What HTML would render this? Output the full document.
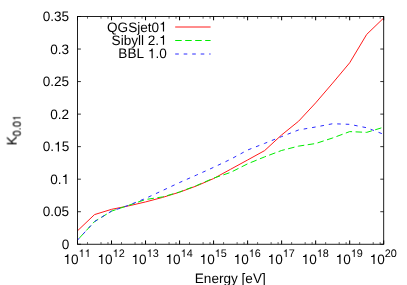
<!DOCTYPE html>
<html><head><meta charset="utf-8"><title>plot</title>
<style>html,body{margin:0;padding:0;background:#fff;}svg{display:block;font-family:"Liberation Sans",sans-serif;}</style></head>
<body>
<svg width="407" height="285" viewBox="0 0 407 285">
<rect width="407" height="285" fill="#fff"/>
<g fill="none" stroke-width="1" stroke-linejoin="round">
<path d="M77.50,230.80 L94.51,214.60 L111.52,209.33 L128.53,205.92 L145.54,201.93 L162.56,197.43 L179.57,192.17 L196.58,185.91 L213.59,178.55 L230.60,169.27 L247.61,159.97 L264.62,150.60 L281.63,134.93 L298.64,121.20 L315.66,102.87 L332.67,83.09 L349.68,62.80 L366.69,34.40 L383.70,18.00" stroke="#ff1a1a"/>
<path d="M77.50,240.10 L94.51,221.60 L111.52,211.14 L128.53,205.36 L145.54,199.52 L162.56,196.92 L179.57,191.97 L196.58,185.51 L213.59,178.19 L230.60,172.40 L247.61,163.82 L264.62,156.89 L281.63,150.46 L298.64,146.11 L315.66,143.52 L332.67,137.97 L349.68,131.60 L366.69,132.36 L383.70,127.20" stroke="#00ec00" stroke-dasharray="6.5 3.5" stroke-dashoffset="7"/>
<path d="M77.50,240.10 L94.51,221.60 L111.52,211.14 L128.53,205.29 L145.54,198.41 L162.56,190.52 L179.57,182.52 L196.58,175.02 L213.59,167.34 L230.60,159.26 L247.61,150.03 L264.62,143.39 L281.63,136.59 L298.64,129.94 L315.66,126.99 L332.67,123.74 L349.68,124.34 L366.69,127.75 L383.70,134.30" stroke="#2a2aff" stroke-dasharray="3.6 4.9" stroke-dashoffset="0.6"/>
<path d="M175.2,27.0 H210.6" stroke="#ff1a1a"/>
<path d="M175.2,40.5 H210.6" stroke="#00ec00" stroke-dasharray="6.5 3.5"/>
<path d="M175.2,54.0 H210.6" stroke="#2a2aff" stroke-dasharray="3.6 4.9"/>
</g>
<path d="M77.50,244.25 v-3.8 M77.50,16.5 v3.8 M111.52,244.25 v-3.8 M111.52,16.5 v3.8 M145.54,244.25 v-3.8 M145.54,16.5 v3.8 M179.57,244.25 v-3.8 M179.57,16.5 v3.8 M213.59,244.25 v-3.8 M213.59,16.5 v3.8 M247.61,244.25 v-3.8 M247.61,16.5 v3.8 M281.63,244.25 v-3.8 M281.63,16.5 v3.8 M315.66,244.25 v-3.8 M315.66,16.5 v3.8 M349.68,244.25 v-3.8 M349.68,16.5 v3.8 M383.70,244.25 v-3.8 M383.70,16.5 v3.8" stroke="#000" stroke-width="1" fill="none"/>
<path d="M77.5,244.25 h3.4 M383.7,244.25 h-3.4 M77.5,211.71 h3.4 M383.7,211.71 h-3.4 M77.5,179.18 h3.4 M383.7,179.18 h-3.4 M77.5,146.64 h3.4 M383.7,146.64 h-3.4 M77.5,114.11 h3.4 M383.7,114.11 h-3.4 M77.5,81.57 h3.4 M383.7,81.57 h-3.4 M77.5,49.04 h3.4 M383.7,49.04 h-3.4 M77.5,16.50 h3.4 M383.7,16.50 h-3.4" stroke="#000" stroke-opacity="0.8" stroke-width="1" fill="none"/>
<path d="M87.49,244.25 v-2.2 M87.49,16.5 v2.2 M101.03,244.25 v-2.2 M101.03,16.5 v2.2 M107.98,244.25 v-2.2 M107.98,16.5 v2.2 M121.51,244.25 v-2.2 M121.51,16.5 v2.2 M135.05,244.25 v-2.2 M135.05,16.5 v2.2 M142.00,244.25 v-2.2 M142.00,16.5 v2.2 M155.54,244.25 v-2.2 M155.54,16.5 v2.2 M169.07,244.25 v-2.2 M169.07,16.5 v2.2 M176.02,244.25 v-2.2 M176.02,16.5 v2.2 M189.56,244.25 v-2.2 M189.56,16.5 v2.2 M203.10,244.25 v-2.2 M203.10,16.5 v2.2 M210.04,244.25 v-2.2 M210.04,16.5 v2.2 M223.58,244.25 v-2.2 M223.58,16.5 v2.2 M237.12,244.25 v-2.2 M237.12,16.5 v2.2 M244.06,244.25 v-2.2 M244.06,16.5 v2.2 M257.60,244.25 v-2.2 M257.60,16.5 v2.2 M271.14,244.25 v-2.2 M271.14,16.5 v2.2 M278.09,244.25 v-2.2 M278.09,16.5 v2.2 M291.63,244.25 v-2.2 M291.63,16.5 v2.2 M305.16,244.25 v-2.2 M305.16,16.5 v2.2 M312.11,244.25 v-2.2 M312.11,16.5 v2.2 M325.65,244.25 v-2.2 M325.65,16.5 v2.2 M339.19,244.25 v-2.2 M339.19,16.5 v2.2 M346.13,244.25 v-2.2 M346.13,16.5 v2.2 M359.67,244.25 v-2.2 M359.67,16.5 v2.2 M373.21,244.25 v-2.2 M373.21,16.5 v2.2 M380.15,244.25 v-2.2 M380.15,16.5 v2.2" stroke="#000" stroke-opacity="0.6" stroke-width="1" fill="none"/>
<rect x="77.5" y="16.5" width="306.20" height="227.75" fill="none" stroke="#000" stroke-width="0.88"/>
<g fill="#000" style="will-change:transform;opacity:0.999;font-kerning:none;text-rendering:geometricPrecision">
<text transform="translate(61.64,249.00) scale(0.9927,1)" font-size="13.70">0</text>
<text transform="translate(42.73,216.46) scale(0.9927,1)" font-size="13.70">0.05</text>
<text transform="translate(50.29,183.93) scale(0.9927,1)" font-size="13.70">0.</text><path transform="translate(61.64,183.93) scale(0.01360,-0.01370)" d="M359,0H273V505H101V568C190,570 262,604 292,703H359Z"/>
<text transform="translate(42.73,151.39) scale(0.9927,1)" font-size="13.70">0.</text><path transform="translate(54.07,151.39) scale(0.01360,-0.01370)" d="M359,0H273V505H101V568C190,570 262,604 292,703H359Z"/><text transform="translate(61.64,151.39) scale(0.9927,1)" font-size="13.70">5</text>
<text transform="translate(50.29,118.86) scale(0.9927,1)" font-size="13.70">0.2</text>
<text transform="translate(42.73,86.32) scale(0.9927,1)" font-size="13.70">0.25</text>
<text transform="translate(50.29,53.79) scale(0.9927,1)" font-size="13.70">0.3</text>
<text transform="translate(42.73,21.25) scale(0.9927,1)" font-size="13.70">0.35</text>
<path transform="translate(63.49,263.90) scale(0.01360,-0.01370)" d="M359,0H273V505H101V568C190,570 262,604 292,703H359Z"/><text transform="translate(71.05,263.90) scale(0.9927,1)" font-size="13.70">0</text><path transform="translate(78.61,257.00) scale(0.01088,-0.01096)" d="M359,0H273V505H101V568C190,570 262,604 292,703H359Z"/><path transform="translate(84.66,257.00) scale(0.01088,-0.01096)" d="M359,0H273V505H101V568C190,570 262,604 292,703H359Z"/>
<path transform="translate(97.51,263.90) scale(0.01360,-0.01370)" d="M359,0H273V505H101V568C190,570 262,604 292,703H359Z"/><text transform="translate(105.07,263.90) scale(0.9927,1)" font-size="13.70">0</text><path transform="translate(112.63,257.00) scale(0.01088,-0.01096)" d="M359,0H273V505H101V568C190,570 262,604 292,703H359Z"/><text transform="translate(118.69,257.00) scale(0.9927,1)" font-size="10.96">2</text>
<path transform="translate(131.53,263.90) scale(0.01360,-0.01370)" d="M359,0H273V505H101V568C190,570 262,604 292,703H359Z"/><text transform="translate(139.09,263.90) scale(0.9927,1)" font-size="13.70">0</text><path transform="translate(146.66,257.00) scale(0.01088,-0.01096)" d="M359,0H273V505H101V568C190,570 262,604 292,703H359Z"/><text transform="translate(152.71,257.00) scale(0.9927,1)" font-size="10.96">3</text>
<path transform="translate(165.55,263.90) scale(0.01360,-0.01370)" d="M359,0H273V505H101V568C190,570 262,604 292,703H359Z"/><text transform="translate(173.12,263.90) scale(0.9927,1)" font-size="13.70">0</text><path transform="translate(180.68,257.00) scale(0.01088,-0.01096)" d="M359,0H273V505H101V568C190,570 262,604 292,703H359Z"/><text transform="translate(186.73,257.00) scale(0.9927,1)" font-size="10.96">4</text>
<path transform="translate(199.57,263.90) scale(0.01360,-0.01370)" d="M359,0H273V505H101V568C190,570 262,604 292,703H359Z"/><text transform="translate(207.14,263.90) scale(0.9927,1)" font-size="13.70">0</text><path transform="translate(214.70,257.00) scale(0.01088,-0.01096)" d="M359,0H273V505H101V568C190,570 262,604 292,703H359Z"/><text transform="translate(220.75,257.00) scale(0.9927,1)" font-size="10.96">5</text>
<path transform="translate(233.60,263.90) scale(0.01360,-0.01370)" d="M359,0H273V505H101V568C190,570 262,604 292,703H359Z"/><text transform="translate(241.16,263.90) scale(0.9927,1)" font-size="13.70">0</text><path transform="translate(248.72,257.00) scale(0.01088,-0.01096)" d="M359,0H273V505H101V568C190,570 262,604 292,703H359Z"/><text transform="translate(254.77,257.00) scale(0.9927,1)" font-size="10.96">6</text>
<path transform="translate(267.62,263.90) scale(0.01360,-0.01370)" d="M359,0H273V505H101V568C190,570 262,604 292,703H359Z"/><text transform="translate(275.18,263.90) scale(0.9927,1)" font-size="13.70">0</text><path transform="translate(282.75,257.00) scale(0.01088,-0.01096)" d="M359,0H273V505H101V568C190,570 262,604 292,703H359Z"/><text transform="translate(288.80,257.00) scale(0.9927,1)" font-size="10.96">7</text>
<path transform="translate(301.64,263.90) scale(0.01360,-0.01370)" d="M359,0H273V505H101V568C190,570 262,604 292,703H359Z"/><text transform="translate(309.20,263.90) scale(0.9927,1)" font-size="13.70">0</text><path transform="translate(316.77,257.00) scale(0.01088,-0.01096)" d="M359,0H273V505H101V568C190,570 262,604 292,703H359Z"/><text transform="translate(322.82,257.00) scale(0.9927,1)" font-size="10.96">8</text>
<path transform="translate(335.66,263.90) scale(0.01360,-0.01370)" d="M359,0H273V505H101V568C190,570 262,604 292,703H359Z"/><text transform="translate(343.23,263.90) scale(0.9927,1)" font-size="13.70">0</text><path transform="translate(350.79,257.00) scale(0.01088,-0.01096)" d="M359,0H273V505H101V568C190,570 262,604 292,703H359Z"/><text transform="translate(356.84,257.00) scale(0.9927,1)" font-size="10.96">9</text>
<path transform="translate(369.69,263.90) scale(0.01360,-0.01370)" d="M359,0H273V505H101V568C190,570 262,604 292,703H359Z"/><text transform="translate(377.25,263.90) scale(0.9927,1)" font-size="13.70">0</text><text transform="translate(384.81,257.00) scale(0.9927,1)" font-size="10.96">20</text>
<text transform="translate(194.77,282.90) scale(0.9927,1)" font-size="13.70">Energy [eV]</text>
<g transform="translate(16.60,145.40) rotate(-90)"><text transform="translate(0.00,0.00) scale(0.9927,1)" font-size="13.70" stroke="#000" stroke-width="0.1">K</text><text transform="translate(9.07,3.90) scale(0.9927,1)" font-size="10.96" stroke="#000" stroke-width="0.08">0.0</text><path transform="translate(24.20,3.90) scale(0.01088,-0.01096)" d="M359,0H273V505H101V568C190,570 262,604 292,703H359Z"/></g>
<text transform="translate(107.03,31.50) scale(0.9927,1)" font-size="13.70">QGSjet0</text><path transform="translate(159.19,31.50) scale(0.01360,-0.01370)" d="M359,0H273V505H101V568C190,570 262,604 292,703H359Z"/>
<text transform="translate(111.57,44.85) scale(0.9927,1)" font-size="13.70">Sibyll 2.</text><path transform="translate(159.19,44.85) scale(0.01360,-0.01370)" d="M359,0H273V505H101V568C190,570 262,604 292,703H359Z"/>
<text transform="translate(118.36,58.20) scale(0.9927,1)" font-size="13.70">BBL </text><path transform="translate(147.84,58.20) scale(0.01360,-0.01370)" d="M359,0H273V505H101V568C190,570 262,604 292,703H359Z"/><text transform="translate(155.41,58.20) scale(0.9927,1)" font-size="13.70">.0</text>
</g>
</svg></body></html>
